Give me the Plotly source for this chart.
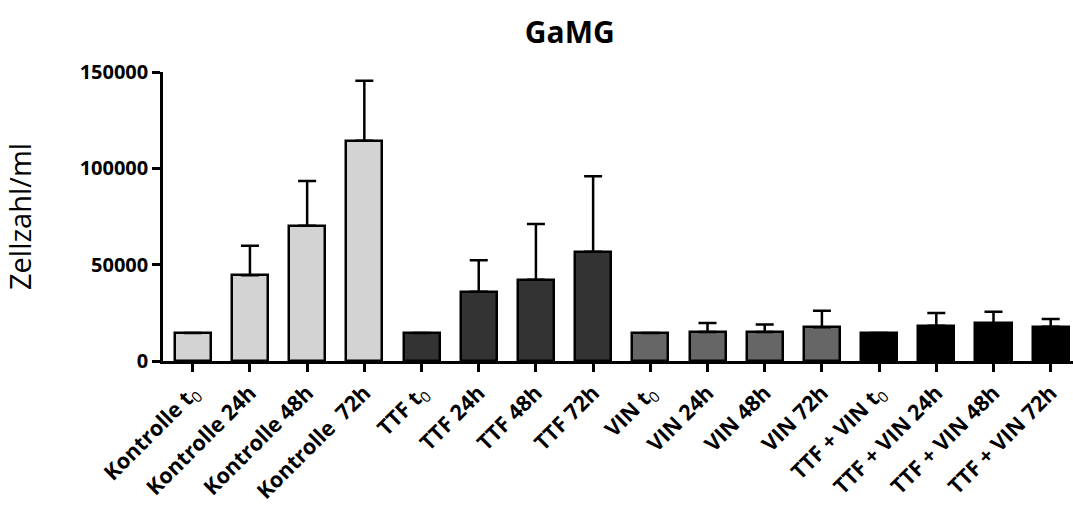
import plotly.graph_objects as go

# Cell counts (cells/ml) per condition and time point, with upward SD bars
categories = [
    "Kontrolle t0", "Kontrolle 24h", "Kontrolle 48h", "Kontrolle  72h",
    "TTF t0", "TTF 24h", "TTF 48h", "TTF 72h",
    "VIN t0", "VIN 24h", "VIN 48h", "VIN 72h",
    "TTF + VIN t0", "TTF + VIN 24h", "TTF + VIN 48h", "TTF + VIN 72h",
]
tick_labels = [
    "<b>Kontrolle t</b><sub>0</sub>", "<b>Kontrolle 24h</b>", "<b>Kontrolle 48h</b>", "<b>Kontrolle  72h</b>",
    "<b>TTF t</b><sub>0</sub>", "<b>TTF 24h</b>", "<b>TTF 48h</b>", "<b>TTF 72h</b>",
    "<b>VIN t</b><sub>0</sub>", "<b>VIN 24h</b>", "<b>VIN 48h</b>", "<b>VIN 72h</b>",
    "<b>TTF + VIN t</b><sub>0</sub>", "<b>TTF + VIN 24h</b>", "<b>TTF + VIN 48h</b>", "<b>TTF + VIN 72h</b>",
]
means = [
    14500, 44500, 70200, 114300,
    14500, 36000, 42200, 56700,
    14500, 15000, 15000, 17500,
    14500, 18300, 19500, 17800,
]
sd = [
    0, 15300, 23200, 31200,
    0, 16300, 28900, 39200,
    0, 4700, 4000, 8600,
    0, 6600, 6100, 4000,
]
group_colors = ["#d3d3d3"] * 4 + ["#333333"] * 4 + ["#666666"] * 4 + ["#000000"] * 4

x_pos = list(range(len(categories)))

FONT = "Open Sans"

fig = go.Figure(
    go.Bar(
        x=x_pos,
        y=means,
        width=0.63,
        marker=dict(color=group_colors, line=dict(color="#000000", width=2.5)),
        error_y=dict(
            type="data",
            array=sd,
            arrayminus=[0] * len(sd),
            symmetric=False,
            color="#000000",
            thickness=2.5,
            width=9,
        ),
        hovertext=categories,
    )
)

fig.update_layout(
    width=1073,
    height=506,
    margin=dict(l=163, r=0, t=72, b=145),
    paper_bgcolor="white",
    plot_bgcolor="white",
    showlegend=False,
    font=dict(family=FONT, color="#000000"),
    title=dict(
        text="<b>GaMG</b>",
        x=0.531,
        xanchor="center",
        y=0.935,
        yanchor="middle",
        font=dict(size=30, family=FONT, color="#000000"),
    ),
    bargap=0,
)

fig.update_xaxes(
    range=[-0.52, 15.39],
    tickmode="array",
    tickvals=x_pos,
    ticktext=tick_labels,
    tickangle=-45,
    tickfont=dict(size=21.5, family=FONT, color="#000000"),
    ticks="outside",
    ticklen=8,
    tickwidth=2.5,
    tickcolor="#000000",
    showline=True,
    linecolor="#000000",
    linewidth=2.5,
    showgrid=False,
    zeroline=False,
    automargin=False,
)

fig.update_yaxes(
    range=[0, 150000],
    tickvals=[0, 50000, 100000, 150000],
    ticktext=["<b>0</b>", "<b>50000</b>", "<b>100000</b>", "<b>150000</b>"],
    tickfont=dict(size=20, family=FONT, color="#000000"),
    ticks="outside",
    ticklen=8,
    tickwidth=2.5,
    tickcolor="#000000",
    showline=True,
    linecolor="#000000",
    linewidth=2.5,
    showgrid=False,
    zeroline=False,
    automargin=False,
    title=dict(text="Zellzahl/ml", font=dict(size=29, family=FONT, color="#000000"), standoff=42),
)

fig.write_html("out.html")
